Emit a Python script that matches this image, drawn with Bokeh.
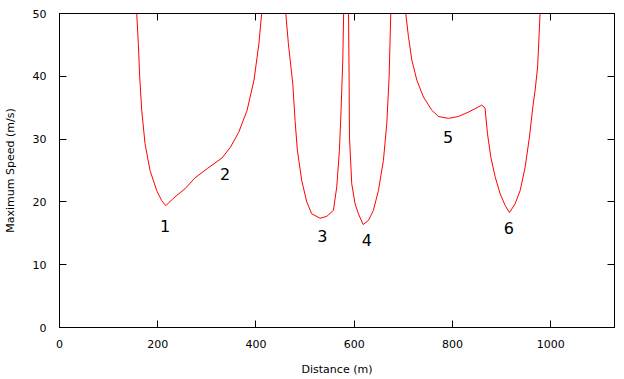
from bokeh.plotting import figure
from bokeh.models import LinearAxis, SingleIntervalTicker, Range1d, ColumnDataSource, CustomLabelingPolicy
from bokeh.core.properties import value
from bokeh.embed import file_html
from bokeh.resources import INLINE

# Segment data (distance m, maximum speed m/s)
seg1_x = [157.2, 160.5, 163.3, 167.4, 174.1, 184.3, 197.9, 208.1, 216.3, 235.2, 255.6, 275.5,
          300.7, 331, 348, 365, 382, 396, 406, 411.6]
seg1_y = [50, 45.2, 39.9, 34.6, 29.3, 25.0, 21.8, 20.2, 19.4, 20.8, 22.1, 23.8,
          25.3, 27.0, 28.7, 31.1, 34.6, 39.4, 45.2, 50]

seg2_x = [460.7, 466, 475, 479.6, 484.3, 493.2, 503.4, 513.6, 530.5, 544.2, 557.7, 564.5,
          569.9, 573.3, 576.8, 578.5]
seg2_y = [50, 45.2, 38.8, 33.0, 28.2, 23.4, 20.0, 18.1, 17.4, 17.7, 18.65, 22.4,
          28.2, 34.6, 42.6, 50]

seg3_x = [588.5, 589.6, 590.4, 595, 601.8, 608.6, 618.1, 629, 639.1, 649.3, 659.5, 666.4,
          671.1, 674.5]
seg3_y = [50, 40, 30.3, 22.9, 19.7, 18.1, 16.4, 17.05, 18.65, 21.8, 26.6, 32.5,
          39.9, 50]

seg4_x = [705, 710.5, 717.3, 727.5, 741, 758, 771.5, 791.9, 812.2, 832.6, 859.5, 866.4,
          871.3, 878.2, 887, 897.1, 907.3, 916.1, 927.7, 937.9, 948, 956.8, 963.7, 968.4,
          973.5, 978.5]
seg4_y = [50, 46.3, 42.6, 39.4, 36.7, 34.6, 33.6, 33.3, 33.6, 34.3, 35.4, 34.95,
          30.9, 27.1, 24.0, 21.3, 19.45, 18.3, 19.7, 21.8, 25.5, 30.3, 35.1, 37.8,
          41.5, 50]

label_text = ["1", "2", "3", "4", "5", "6"]
label_x = [215, 337, 535, 626, 791, 915]
label_y = [16.1, 24.4, 14.5, 13.9, 30.3, 15.8]

FONT = "DejaVu Sans"

p = figure(width=624, height=379, output_backend="svg", toolbar_location=None,
           x_range=Range1d(0, 1130), y_range=Range1d(0, 50),
           min_border_left=58, min_border_right=10, min_border_top=13, min_border_bottom=52,
           x_axis_label="Distance (m)", y_axis_label="Maximum Speed (m/s)")

p.xgrid.visible = False
p.ygrid.visible = False
p.outline_line_color = "black"
p.outline_line_alpha = 1.0
p.outline_line_width = 1

p.xaxis.ticker = SingleIntervalTicker(interval=200)
p.yaxis.ticker = SingleIntervalTicker(interval=10)

for ax in (p.xaxis[0], p.yaxis[0]):
    ax.major_tick_in = 7
    ax.major_tick_out = 0
    ax.minor_tick_line_color = None
    ax.axis_line_color = "black"
    ax.major_tick_line_color = "black"
    ax.major_label_text_font = FONT
    ax.major_label_text_font_size = "11px"
    ax.major_label_text_color = "black"
    ax.axis_label_text_font = FONT
    ax.axis_label_text_font_size = "11px"
    ax.axis_label_text_font_style = "normal"
    ax.axis_label_text_color = "black"

p.xaxis.major_label_standoff = 8
p.xaxis.axis_label_standoff = 12
p.yaxis.major_label_standoff = 9
p.yaxis.axis_label_standoff = 13

hide_all = """
for (const i of indices) { indices.unset(i) }
return indices
"""

# mirrored ticks on top and right (no labels)
top = LinearAxis(ticker=SingleIntervalTicker(interval=200), major_tick_in=7, major_tick_out=0,
                 minor_tick_line_color=None, major_label_policy=CustomLabelingPolicy(code=hide_all),
                 major_label_text_font_size="0px", major_label_standoff=0, axis_line_color="black")
right = LinearAxis(ticker=SingleIntervalTicker(interval=10), major_tick_in=7, major_tick_out=0,
                   minor_tick_line_color=None, major_label_policy=CustomLabelingPolicy(code=hide_all),
                   major_label_text_font_size="0px", major_label_standoff=0, axis_line_color="black")
p.add_layout(top, "above")
p.add_layout(right, "right")

for sx, sy in ((seg1_x, seg1_y), (seg2_x, seg2_y), (seg3_x, seg3_y), (seg4_x, seg4_y)):
    p.line(sx, sy, line_color="#ff0000", line_width=1)

src = ColumnDataSource(dict(x=label_x, y=label_y, t=label_text))
p.text(x="x", y="y", text="t", source=src, text_font=value(FONT), text_font_size="16px",
       text_align="center", text_baseline="middle", text_color="black")

open("out.html", "w").write(file_html(p, INLINE))
